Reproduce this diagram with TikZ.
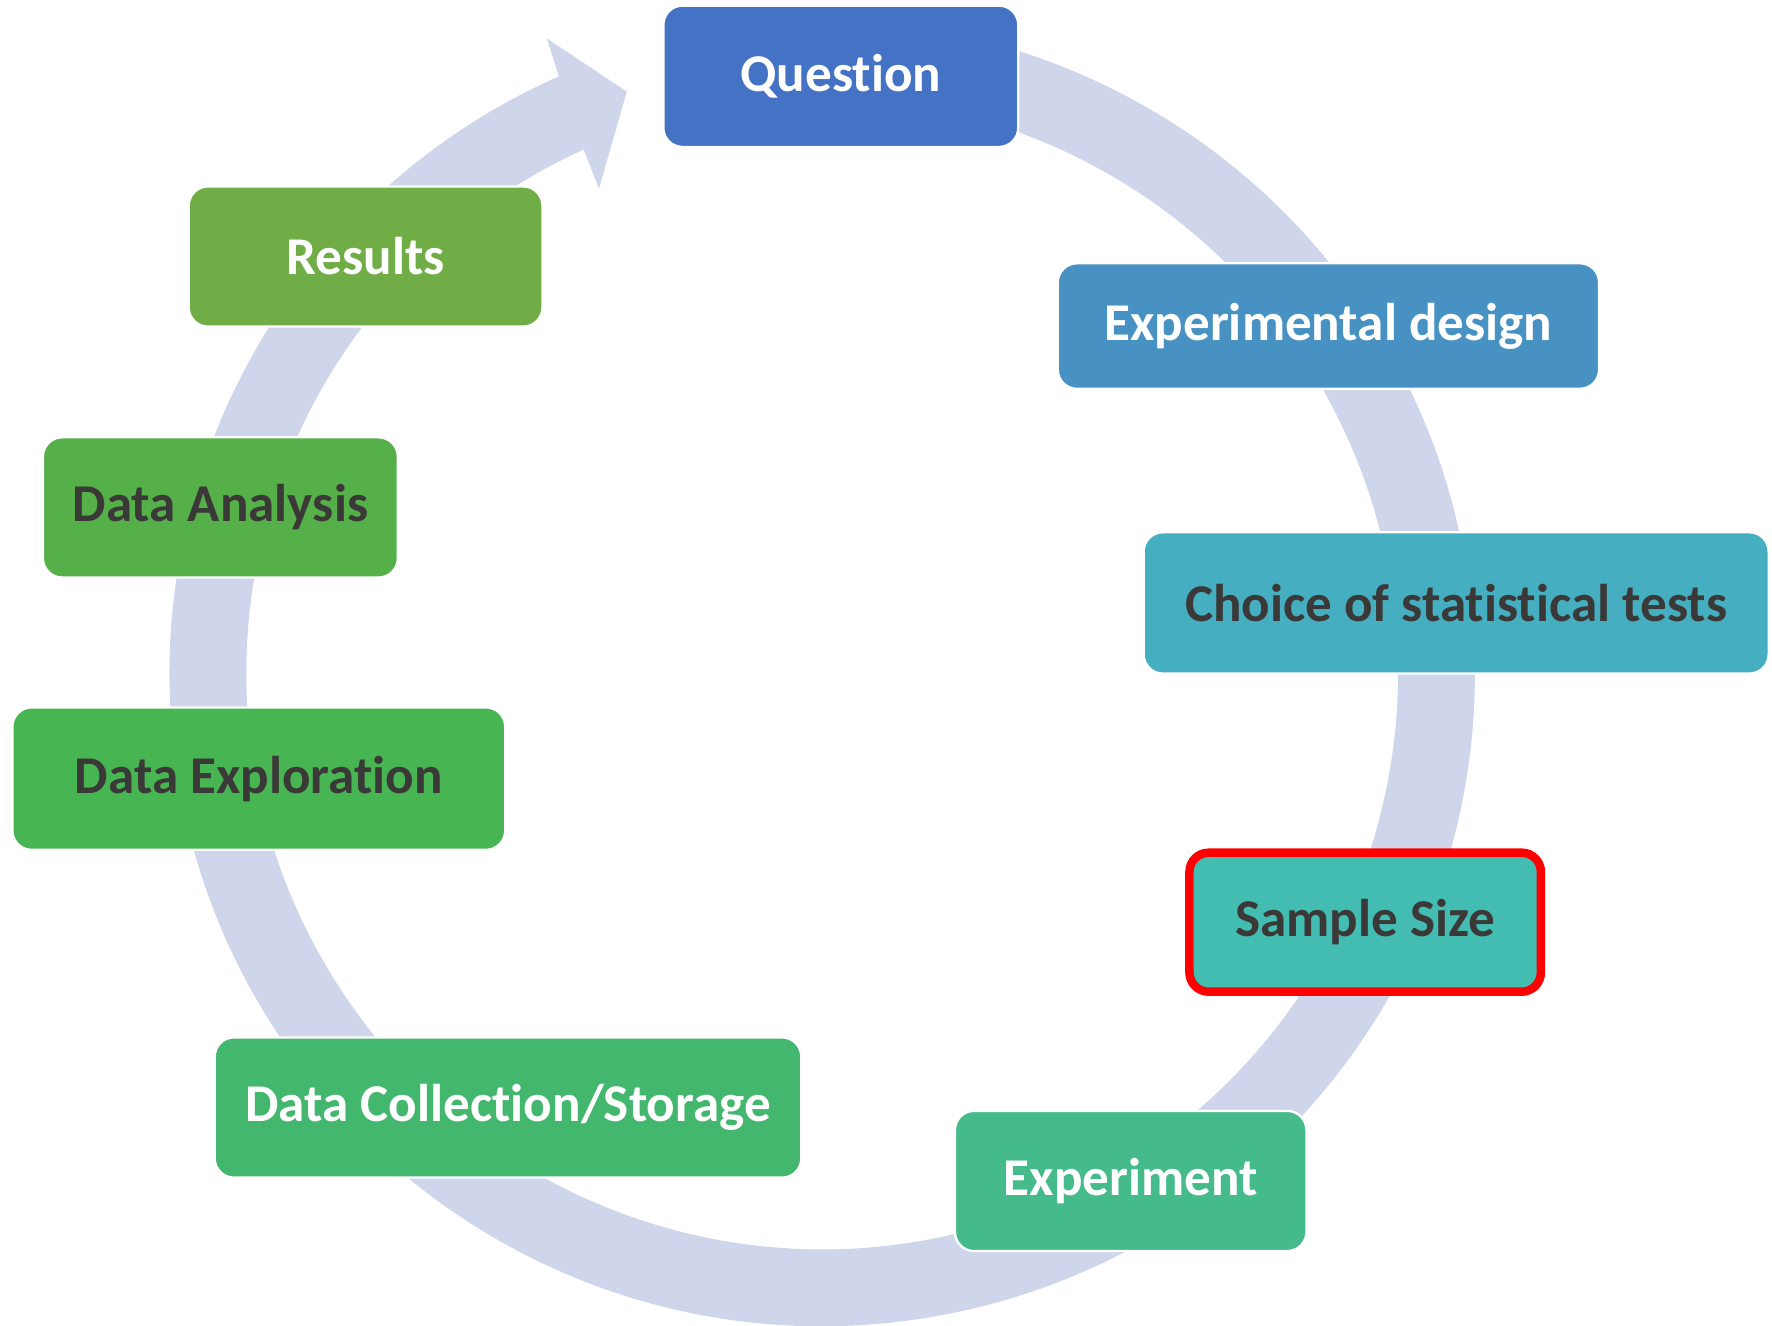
\documentclass[tikz,border=0pt]{standalone}
\usepackage{fontspec}
\setmainfont[Ligatures=NoCommon]{Carlito}
\definecolor{ringc}{HTML}{CFD5EA}
\definecolor{darktxt}{HTML}{3B3838}
\definecolor{cQ}{HTML}{4472C4}
\definecolor{cED}{HTML}{4792C3}
\definecolor{cCh}{HTML}{45AEC1}
\definecolor{cSS}{HTML}{43BDB1}
\definecolor{cEx}{HTML}{45BA8B}
\definecolor{cDC}{HTML}{44B76E}
\definecolor{cDE}{HTML}{48B553}
\definecolor{cDA}{HTML}{56B04A}
\definecolor{cRe}{HTML}{70AD47}
\begin{document}
\begin{tikzpicture}[x=1pt,y=1pt,
  box/.style={rounded corners=17pt, draw=white, line width=2pt, inner sep=0pt,
    font=\fontsize{47}{56}\selectfont\bfseries, align=center},
  light/.style={text=white},
  dark/.style={text=darktxt}]
\useasboundingbox (0,0) rectangle (1568,-1173);
% cycle ring with arrow head
\fill[ringc, shift={(727.5,-596)}]
  (100:577.5) arc[start angle=100, end angle=-246.22, radius=577.5pt]
  -- (-246.56:612.7) -- (-251.44:543.2) -- (-245.28:472.3)
  -- (-245.54:509.5) arc[start angle=-245.54, end angle=100, radius=509.5pt]
  -- cycle;
% boxes
\node[box, light, fill=cQ,  minimum width=314pt, minimum height=125pt] (q)  at (744,-67.5)   {Question};
\node[box, light, fill=cED, minimum width=479pt, minimum height=111pt] (ed) at (1175.5,-288.5) {Experimental design};
\node[box, dark,  fill=cCh, minimum width=553pt, minimum height=125pt] (ch) at (1288.5,-533.5) {Choice of statistical tests};
\node[box, dark,  fill=cSS, draw=red, line width=7.5pt, minimum width=311pt, minimum height=123pt] (ss) at (1208,-816) {Sample Size};
\node[box, light, fill=cEx, minimum width=311pt, minimum height=124pt] (ex) at (1000.5,-1045) {Experiment};
\node[box, light, fill=cDC, minimum width=519pt, minimum height=124pt] (dc) at (449.5,-980) {Data Collection/Storage};
\node[box, dark,  fill=cDE, minimum width=436pt, minimum height=126pt] (de) at (229,-689) {Data Exploration};
\node[box, dark,  fill=cDA, minimum width=314pt, minimum height=124pt] (da) at (195,-449) {Data Analysis};
\node[box, light, fill=cRe, minimum width=313pt, minimum height=124pt] (re) at (323.5,-227) {Results};
\end{tikzpicture}
\end{document}
